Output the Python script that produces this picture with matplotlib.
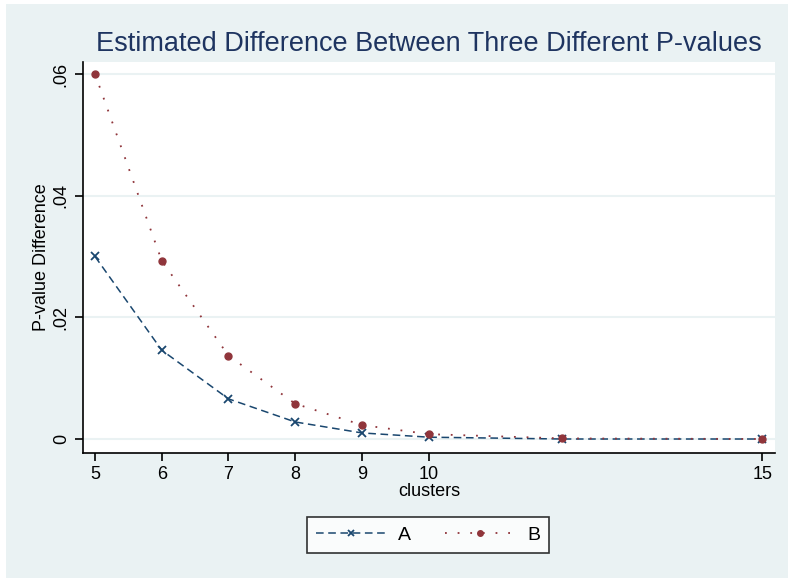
import matplotlib.pyplot as plt
from matplotlib.patches import Rectangle

plt.rcParams['font.family'] = ['Liberation Sans', 'DejaVu Sans']

clusters = [5, 6, 7, 8, 9, 10, 12, 15]
a_vals = [0.030, 0.0146, 0.0066, 0.0028, 0.0010, 0.0003, 0.0000, 0.0000]
b_vals = [0.060, 0.0293, 0.0137, 0.0058, 0.0023, 0.0008, 0.0001, 0.0000]
xticks = [5, 6, 7, 8, 9, 10, 15]
yticks = [0, 0.02, 0.04, 0.06]
ylabels = ['0', '.02', '.04', '.06']

bg = '#EAF2F3'
navy = '#1A476F'
maroon = '#90353B'

fig = plt.figure(figsize=(7.88, 5.78), dpi=100, facecolor='white')
fig.patches.append(Rectangle((6/788, 0), 1, 1 - 4/578, transform=fig.transFigure,
                             facecolor=bg, edgecolor='none', zorder=-10))
ax = fig.add_axes([83/788, 1 - 453/578, (775 - 83)/788, (453 - 62)/578])
ax.set_facecolor('white')

ax.plot(clusters, a_vals, color=navy, linestyle=(0, (5, 3)), lw=1.1,
        marker='x', ms=6, mew=1.3, label='A')
ax.plot(clusters, b_vals, color=maroon, linestyle=(0, (1, 6)), lw=1.3,
        marker='o', ms=5, label='B')

ax.set_xlim(4.82, 15.19)
ax.set_ylim(-0.0023, 0.06197)
ax.set_xticks(xticks)
ax.set_yticks(yticks)
ax.set_yticklabels(ylabels, rotation=90, va='center')
ax.grid(axis='y', color=bg, lw=1.5)
ax.set_axisbelow(True)
for s in ['top', 'right']:
    ax.spines[s].set_visible(False)
for s in ['left', 'bottom']:
    ax.spines[s].set_linewidth(1.2)
ax.tick_params(labelsize=13, length=6, width=1.2, colors='black')
ax.set_xlabel('clusters', fontsize=13, labelpad=0)
ax.set_ylabel('P-value Difference', fontsize=13, labelpad=2)
ax.set_title('Estimated Difference Between Three Different P-values',
             fontsize=19.5, color='#1E3460', pad=8)

leg = ax.legend(loc='center', bbox_to_anchor=(428/788, 1 - 535/578),
                bbox_transform=fig.transFigure, ncol=2, fontsize=14,
                frameon=True, fancybox=False, edgecolor='black',
                handlelength=3.6, columnspacing=1.8, handletextpad=0.6,
                borderpad=0.45, markerscale=0.8)
leg.get_frame().set_linewidth(1.2)

fig.savefig('out.png', dpi=100)
